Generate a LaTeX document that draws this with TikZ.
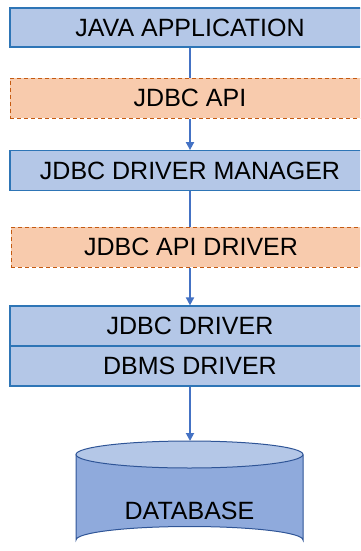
\documentclass[tikz,border=0pt]{standalone}
\usepackage{fontspec}
\setmainfont{Liberation Sans}
\usetikzlibrary{arrows.meta}
\definecolor{bfill}{HTML}{B4C7E7}
\definecolor{bdraw}{HTML}{2E75B6}
\definecolor{ofill}{HTML}{F8CBAD}
\definecolor{odraw}{HTML}{C55A11}
\definecolor{conn}{HTML}{4472C4}
\definecolor{cylfill}{HTML}{8FAADC}
\definecolor{cyltop}{HTML}{B4C7E7}
\definecolor{cyldraw}{HTML}{2F5597}
\tikzset{
  box/.style={rectangle, minimum width=360pt, minimum height=40pt, inner sep=0pt,
    font=\fontsize{25}{29}\selectfont, text=black},
  bluebox/.style={box, fill=bfill, draw=bdraw, line width=1.2pt},
  orangebox/.style={box, fill=ofill, draw=odraw, line width=1pt, dash pattern=on 4pt off 3pt},
  link/.style={draw=conn, line width=1.8pt},
  arrowlink/.style={link, -{Triangle[width=8pt,length=8pt]}},
}
\begin{document}
\begin{tikzpicture}[x=1pt,y=-1pt]
\useasboundingbox (0,0) rectangle (360,551);
\clip (0,0) rectangle (360,551);
\node[bluebox, minimum height=39pt] (java) at (190,27.5) {JAVA APPLICATION};
\node[orangebox] (api) at (190,98) {JDBC API};
\node[bluebox] (dm) at (190,170.7) {JDBC DRIVER MANAGER};
\node[orangebox] (apid) at (191,247) {JDBC API DRIVER};
\node[bluebox] (jd) at (190,326) {JDBC DRIVER};
\node[bluebox] (dbms) at (190,366) {DBMS DRIVER};
% cylinder
\fill[cylfill] (76,454.5) -- (76,540) arc[start angle=180, end angle=360, x radius=113.5, y radius=13.5] -- (303,454.5) -- cycle;
\draw[cyldraw, line width=1pt] (76,454.5) -- (76,540) arc[start angle=180, end angle=360, x radius=113.5, y radius=13.5] -- (303,454.5);
\draw[cyldraw, line width=1pt, fill=cyltop] (189.5,454.5) ellipse[x radius=113.5, y radius=13.5];
\coordinate (dbtop) at (190,441);
\node[font=\fontsize{25}{29}\selectfont, text=black] (db) at (189.5,511) {DATABASE};
% connectors
\draw[link] (java.south) -- (api.north);
\draw[arrowlink] (api.south) -- (dm.north);
\draw[link] (dm.south) -- (apid.north -| dm.south);
\draw[arrowlink] (apid.south -| jd.north) -- (jd.north);
\draw[arrowlink] (dbms.south) -- (dbtop);
\end{tikzpicture}
\end{document}
